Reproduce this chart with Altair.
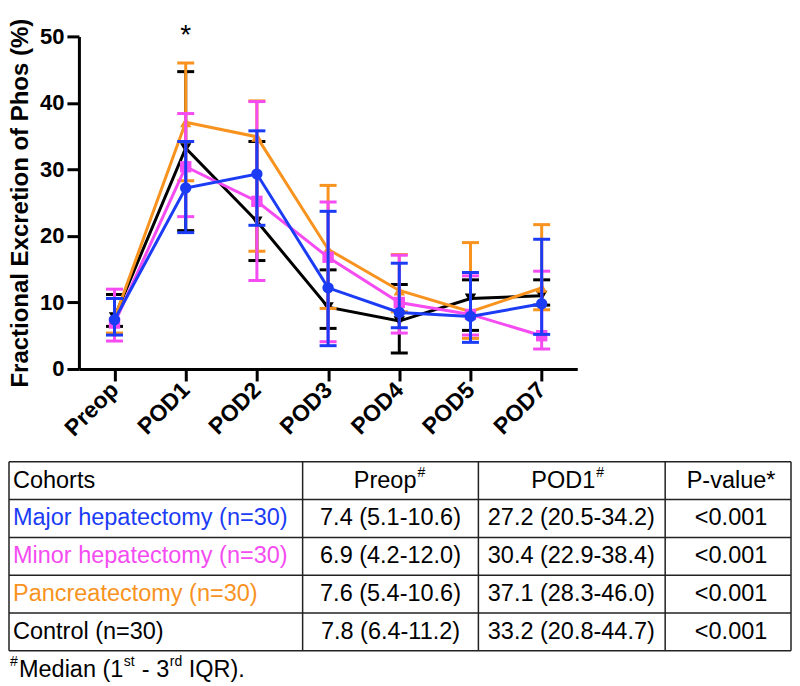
import altair as alt
import pandas as pd

FONT = "Liberation Sans"

days = ["Preop", "POD1", "POD2", "POD3", "POD4", "POD5", "POD7"]

# Median and IQR (1st - 3rd) per cohort
major_med = [7.4, 27.2, 29.3, 12.2, 8.5, 7.9, 9.8]
major_lo = [5.1, 20.5, 21.6, 3.5, 6.2, 4.0, 5.2]
major_hi = [10.6, 34.2, 35.8, 23.7, 15.9, 14.5, 19.5]

minor_med = [6.9, 30.4, 25.2, 16.8, 10.0, 8.2, 5.0]
minor_lo = [4.2, 22.9, 13.3, 4.1, 5.4, 5.1, 3.0]
minor_hi = [12.0, 38.4, 40.2, 25.1, 17.1, 14.0, 14.7]

panc_med = [7.6, 37.1, 34.9, 18.0, 11.8, 8.6, 12.2]
panc_lo = [5.4, 28.3, 17.7, 9.1, 8.6, 4.6, 8.9]
panc_hi = [10.6, 46.0, 40.3, 27.6, 17.2, 19.0, 21.7]

ctrl_med = [7.8, 33.2, 22.2, 9.3, 7.2, 10.6, 11.0]
ctrl_lo = [6.4, 20.8, 16.3, 6.1, 2.4, 5.8, 9.6]
ctrl_hi = [11.2, 44.7, 34.2, 14.9, 12.7, 13.4, 13.4]

BLUE = "#1B3CF4"
PINK = "#F54CF2"
ORANGE = "#F7931E"
BLACK = "#000000"

# table content
header = ["Cohorts", "Preop", "POD1", "P-value*"]
cohorts = ["Major hepatectomy (n=30)", "Minor hepatectomy (n=30)",
           "Pancreatectomy (n=30)", "Control (n=30)"]
cohort_colors = [BLUE, PINK, ORANGE, BLACK]
preop_txt = ["7.4 (5.1-10.6)", "6.9 (4.2-12.0)", "7.6 (5.4-10.6)", "7.8 (6.4-11.2)"]
pod1_txt = ["27.2 (20.5-34.2)", "30.4 (22.9-38.4)", "37.1 (28.3-46.0)", "33.2 (20.8-44.7)"]
pval_txt = ["<0.001", "<0.001", "<0.001", "<0.001"]

# ---------------- top chart ----------------
x_axis = alt.Axis(title=None, labelAngle=-45, labelAlign="right", labelBaseline="middle",
                  labelFont=FONT, labelFontSize=23,
                  labelFontWeight="bold", labelColor="black", tickSize=12, tickWidth=3,
                  tickColor="black", domainColor="black", domainWidth=3, labelPadding=5,
                  grid=False)
y_axis = alt.Axis(title="Fractional Excretion of Phos (%)", values=[0, 10, 20, 30, 40, 50],
                  labelFont=FONT, labelFontSize=22, labelFontWeight="bold", labelColor="black",
                  tickSize=12, tickWidth=3, tickColor="black", domainColor="black",
                  domainWidth=3, labelPadding=3, grid=False, titleFont=FONT,
                  titleFontSize=24, titleFontWeight="bold", titleColor="black",
                  titlePadding=7)
X = alt.X("day:N", sort=days, scale=alt.Scale(type="point", padding=0.5, domain=days),
          axis=x_axis)
ysc = alt.Scale(domain=[0, 50], nice=False)

series = [
    (ctrl_med, ctrl_lo, ctrl_hi, BLACK, "triangle-down"),
    (panc_med, panc_lo, panc_hi, ORANGE, "triangle-up"),
    (minor_med, minor_lo, minor_hi, PINK, "square"),
    (major_med, major_lo, major_hi, BLUE, "circle"),
]

layers = []
for med, lo, hi, col, shp in series:
    df = pd.DataFrame({"day": days, "med": med, "lo": lo, "hi": hi})
    base = alt.Chart(df)
    layers.append(base.mark_line(color=col, strokeWidth=3).encode(
        x=X, y=alt.Y("med:Q", scale=ysc, axis=y_axis)))
    layers.append(base.mark_rule(color=col, strokeWidth=3).encode(
        x=X, y=alt.Y("lo:Q", scale=ysc, axis=y_axis), y2="hi:Q"))
    layers.append(base.transform_fold(["lo", "hi"], as_=["k", "v"]).mark_tick(
        color=col, thickness=3, size=17, orient="horizontal", opacity=1).encode(
        x=X, y=alt.Y("v:Q", scale=ysc, axis=y_axis)))
    layers.append(base.mark_point(color=col, filled=True, opacity=1, size=130, shape=shp).encode(
        x=X, y=alt.Y("med:Q", scale=ysc, axis=y_axis)))

star_df = pd.DataFrame({"day": ["POD1"], "y": [50.0], "t": ["*"]})
star = alt.Chart(star_df).mark_text(font=FONT, fontSize=28, color="black", baseline="middle").encode(
    x=X, y=alt.Y("y:Q", scale=ysc, axis=y_axis), text="t:N")

top = alt.layer(*layers, star).properties(width=499, height=333)

# ---------------- table ----------------
# x in page-like units: the table shares its left origin with the plot above (x=78)
tx = alt.Scale(domain=[78, 791], nice=False, zero=False)
ty = alt.Scale(domain=[0, 5.5], reverse=True, nice=False, zero=False)
TW, TH = 713, 208
FS = 23.5

col_edges = [8, 302, 478, 665, 791]
row_edges = [0, 1, 2, 3, 4, 5]

hrules = pd.DataFrame({"y": row_edges, "x": [col_edges[0]] * 6, "x2": [col_edges[-1]] * 6})
vrules = pd.DataFrame({"x": col_edges, "y": [0] * 5, "y2": [5] * 5})

hr = alt.Chart(hrules).mark_rule(color="#222222", strokeWidth=1.5).encode(
    x=alt.X("x:Q", scale=tx, axis=None), x2="x2:Q", y=alt.Y("y:Q", scale=ty, axis=None))
vr = alt.Chart(vrules).mark_rule(color="#222222", strokeWidth=1.5).encode(
    x=alt.X("x:Q", scale=tx, axis=None), y=alt.Y("y:Q", scale=ty, axis=None), y2="y2:Q")

left_df = pd.DataFrame({
    "x": [12] * 5,
    "y": [0.5, 1.5, 2.5, 3.5, 4.5],
    "t": [header[0]] + cohorts,
    "c": [BLACK] + cohort_colors,
})
left_txt = alt.Chart(left_df).mark_text(font=FONT, fontSize=FS, align="left", baseline="middle").encode(
    x=alt.X("x:Q", scale=tx, axis=None), y=alt.Y("y:Q", scale=ty, axis=None),
    text="t:N", color=alt.Color("c:N", scale=None))

cen_rows = []
for i in range(4):
    cen_rows.append((390, i + 1.5, preop_txt[i]))
    cen_rows.append((571, i + 1.5, pod1_txt[i]))
    cen_rows.append((731, i + 1.5, pval_txt[i]))
cen_rows.append((731, 0.5, header[3]))
cen_df = pd.DataFrame(cen_rows, columns=["x", "y", "t"])
cen_txt = alt.Chart(cen_df).mark_text(font=FONT, fontSize=FS, align="center", baseline="middle",
                                     color="black").encode(
    x=alt.X("x:Q", scale=tx, axis=None), y=alt.Y("y:Q", scale=ty, axis=None), text="t:N")

hdr_df = pd.DataFrame({"x": [416, 595], "y": [0.5, 0.5], "t": [header[1], header[2]]})
hdr_txt = alt.Chart(hdr_df).mark_text(font=FONT, fontSize=FS, align="right", baseline="middle",
                                     color="black").encode(
    x=alt.X("x:Q", scale=tx, axis=None), y=alt.Y("y:Q", scale=ty, axis=None), text="t:N")

sup_df = pd.DataFrame({"x": [417, 596], "y": [0.5, 0.5], "t": ["#", "#"]})
sup_txt = alt.Chart(sup_df).mark_text(font=FONT, fontSize=14, align="left", baseline="middle",
                                     dy=-8, color="black").encode(
    x=alt.X("x:Q", scale=tx, axis=None), y=alt.Y("y:Q", scale=ty, axis=None), text="t:N")

# footnote "#Median (1st - 3rd IQR)."
foot_big = pd.DataFrame({"x": [18, 141, 188], "y": [5.5] * 3, "t": ["Median (1", "- 3", "IQR)."]})
foot_small = pd.DataFrame({"x": [9, 123, 169], "y": [5.5] * 3, "t": ["#", "st", "rd"]})
fb = alt.Chart(foot_big).mark_text(font=FONT, fontSize=FS, align="left", baseline="middle",
                                   color="black").encode(
    x=alt.X("x:Q", scale=tx, axis=None), y=alt.Y("y:Q", scale=ty, axis=None), text="t:N")
fs = alt.Chart(foot_small).mark_text(font=FONT, fontSize=14, align="left", baseline="middle",
                                     dy=-8, color="black").encode(
    x=alt.X("x:Q", scale=tx, axis=None), y=alt.Y("y:Q", scale=ty, axis=None), text="t:N")

table = alt.layer(hr, vr, left_txt, cen_txt, hdr_txt, sup_txt, fb, fs).properties(width=TW, height=TH)

chart = alt.vconcat(top, table, spacing=20).properties(
    padding={"left": 0, "top": 9, "right": 0, "bottom": 0}
).configure_view(stroke=None)

chart.save("out.html", embed_options={"renderer": "svg", "actions": False})
